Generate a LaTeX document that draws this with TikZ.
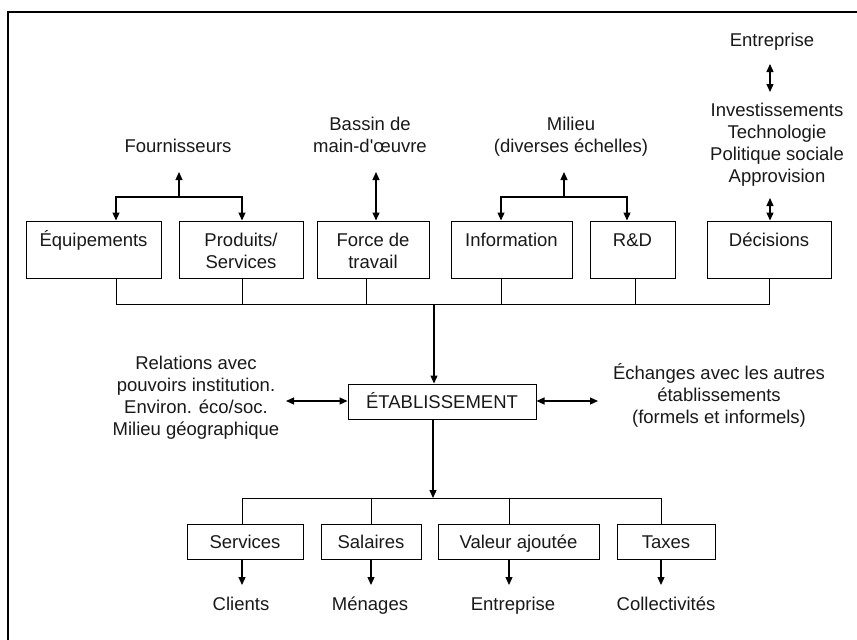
\documentclass[tikz,border=0pt]{standalone}
\usepackage{fontspec}
\setmainfont{Liberation Sans}
\usetikzlibrary{arrows.meta}
\begin{document}
\begin{tikzpicture}[x=1pt,y=-1pt,
  every node/.style={font=\fontsize{18.5}{22}\selectfont, text=black!90},
  ubox/.style={draw, line width=1pt, inner sep=0pt, align=center, text height=25pt, text depth=32pt},
  uboxtwo/.style={draw, line width=1pt, inner sep=0pt, align=center, text height=47pt, text depth=10pt},
  lbox/.style={draw, line width=1pt, inner sep=0pt, align=center, text height=24pt, text depth=11pt},
  lbl/.style={inner sep=0pt, align=center, anchor=base},
  conn/.style={line width=1pt},
  arr/.style={line width=1.2pt, -{Triangle[length=8pt,width=7pt]}},
  darr/.style={line width=1.2pt, {Triangle[length=8pt,width=7pt]}-{Triangle[length=8pt,width=7pt]}}
]
\useasboundingbox (0,0) rectangle (857,640);
\fill[white] (0,0) rectangle (857,640);
\draw[line width=2.6pt] (8,650) -- (8,12) -- (870,12);

% upper boxes
\node[ubox, minimum width=135pt] (equip) at (93.5,249.5) {Équipements};
\node[uboxtwo, minimum width=124pt] (prod) at (241,249.5) {Produits/\\Services};
\node[uboxtwo, minimum width=112pt] (force) at (373,249.5) {Force de\\travail};
\node[ubox, minimum width=121pt] (info) at (511.5,249.5) {Information};
\node[ubox, minimum width=85pt] (rd) at (632.5,249.5) {R\&D};
\node[ubox, minimum width=124pt] (dec) at (769,249.5) {Décisions};

% upper labels (anchor = baseline of last line)
\node[lbl] (fourn) at (178,152) {Fournisseurs};
\node[lbl] (bassin) at (370,152) {Bassin de\\main-d\textquotesingle œuvre};
\node[lbl] (milieu) at (571,152) {Milieu\\(diverses échelles)};
\node[lbl] (entr1) at (772,46) {Entreprise};
\node[lbl] (invest) at (777,182) {Investissements\\Technologie\\Politique sociale\\Approvision};

% coordinates
\coordinate (fj) at (179,197);
\coordinate (ft) at (179,172);
\coordinate (b1) at (116,304);
\coordinate (b2) at (242,304);
\coordinate (b3) at (366,304);
\coordinate (b4) at (501,304);
\coordinate (b5) at (635,304);
\coordinate (b6) at (769,304);
\coordinate (bm) at (434,304);
\coordinate (bt) at (376,172);
\coordinate (mj) at (564,197);
\coordinate (mt) at (564,172);
\coordinate (m2) at (627,304);
\coordinate (dj) at (770,198);
\coordinate (ea) at (770,64);
\coordinate (eb) at (770,92);

% fournisseurs
\draw[arr] (fj) -- (ft);
\draw[arr] (fj) -| (b1 |- equip.north);
\draw[arr] (fj) -| (b2 |- prod.north);
% bassin
\draw[darr] (bt) -- (bt |- force.north);
% milieu
\draw[arr] (mj) -- (mt);
\draw[arr] (mj) -| (b4 |- info.north);
\draw[arr] (mj) -| (m2 |- rd.north);
% decisions
\draw[darr] (dj) -- (dj |- dec.north);
\draw[darr] (ea) -- (eb);

% upper bus
\draw[conn] (b1 |- equip.south) -- (b1) -- (b6) -- (b6 |- dec.south);
\draw[conn] (b2 |- prod.south) -- (b2);
\draw[conn] (b3 |- force.south) -- (b3);
\draw[conn] (b4 |- info.south) -- (b4);
\draw[conn] (b5 |- rd.south) -- (b5);

% etablissement
\node[lbox, minimum width=188pt] (etab) at (442,401.5) {ÉTABLISSEMENT};
\draw[arr] (bm) -- (bm |- etab.north);

\node[lbl] (rel) at (196,435) {Relations avec\\pouvoirs institution.\\Environ. éco/soc.\\Milieu géographique};
\node[lbl] (ech) at (719,423) {Échanges avec les autres\\établissements\\(formels et informels)};
\coordinate (rl) at (286,401);
\coordinate (er) at (598,401);
\draw[darr] (rl) -- (rl -| etab.west);
\draw[darr] (er -| etab.east) -- (er);

% lower bus
\coordinate (l1) at (242,498);
\coordinate (l2) at (371,498);
\coordinate (l3) at (509,498);
\coordinate (l4) at (661,498);
\coordinate (lm) at (433,498);
\draw[arr] (lm |- etab.south) -- (lm);

\node[lbox, minimum width=116pt] (serv) at (245,541.5) {Services};
\node[lbox, minimum width=100pt] (sal) at (371,541.5) {Salaires};
\node[lbox, minimum width=161pt] (val) at (518.5,541.5) {Valeur ajoutée};
\node[lbox, minimum width=98pt] (tax) at (666,541.5) {Taxes};

\draw[conn] (l1 |- serv.north) -- (l1) -- (l4) -- (l4 |- tax.north);
\draw[conn] (l2 |- sal.north) -- (l2);
\draw[conn] (l3 |- val.north) -- (l3);

\node[lbl] (cli) at (241,610) {Clients};
\node[lbl] (men) at (370,610) {Ménages};
\node[lbl] (entr2) at (513,610) {Entreprise};
\node[lbl] (coll) at (666,610) {Collectivités};

\coordinate (d1) at (242,585);
\coordinate (d2) at (371,585);
\coordinate (d3) at (509,585);
\coordinate (d4) at (661,585);
\draw[arr] (d1 |- serv.south) -- (d1);
\draw[arr] (d2 |- sal.south) -- (d2);
\draw[arr] (d3 |- val.south) -- (d3);
\draw[arr] (d4 |- tax.south) -- (d4);
\end{tikzpicture}
\end{document}
